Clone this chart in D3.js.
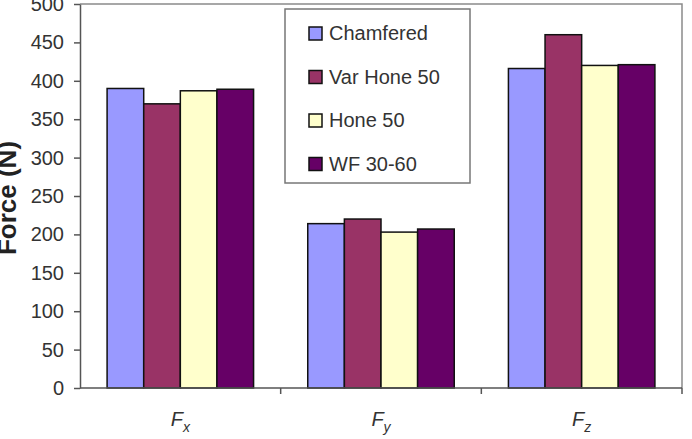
<!DOCTYPE html>
<html>
<head>
<meta charset="utf-8">
<script src="https://cdn.jsdelivr.net/npm/d3@7"></script>
<style>
body { margin: 0; background: #fff; }
text { font-family: "Liberation Sans", Arial, sans-serif; }
</style>
</head>
<body>
<div id="chart"></div>
<script>
// data
var categories = ["x", "y", "z"];
var seriesNames = ["Chamfered", "Var Hone 50", "Hone 50", "WF 30-60"];
var chamfered = [390, 214, 416];
var varHone50 = [370, 220, 460];
var hone50 = [387, 203, 420];
var wf3060 = [389, 207, 421];
var yTicks = [0, 50, 100, 150, 200, 250, 300, 350, 400, 450, 500];

var colors = ["#9999ff", "#993366", "#ffffcc", "#660066"];
var allSeries = [chamfered, varHone50, hone50, wf3060];

// set the dimensions and margins of the graph
var margin = {top: 4, right: 10, bottom: 51, left: 80},
    width = 692 - margin.left - margin.right,
    height = 439 - margin.top - margin.bottom;

var x0 = d3.scaleBand()
    .domain(categories)
    .range([0, width])
    .paddingInner(0)
    .paddingOuter(0);

var x1 = d3.scaleBand()
    .domain(d3.range(seriesNames.length))
    .range([x0.bandwidth() * 0.135, x0.bandwidth() * 0.865]);

var y = d3.scaleLinear()
    .domain([0, 500])
    .range([height, 0]);

var svg = d3.select("#chart").append("svg")
    .attr("width", 692)
    .attr("height", 439)
  .append("g")
    .attr("transform", "translate(" + margin.left + "," + margin.top + ")");

// plot area border (top and right)
svg.append("path")
    .attr("d", "M0,0H" + width + "V" + height)
    .attr("fill", "none")
    .attr("stroke", "#8a8a8a")
    .attr("stroke-width", 1.5);

// bars
var groups = svg.selectAll(".grp")
    .data(categories)
  .enter().append("g")
    .attr("class", "grp")
    .attr("transform", function(d) { return "translate(" + x0(d) + ",0)"; });

groups.selectAll("rect")
    .data(function(d, i) { return allSeries.map(function(s, j) { return {v: s[i], j: j}; }); })
  .enter().append("rect")
    .attr("x", function(d) { return x1(d.j); })
    .attr("width", x1.bandwidth())
    .attr("y", function(d) { return y(d.v); })
    .attr("height", function(d) { return height - y(d.v); })
    .attr("fill", function(d) { return colors[d.j]; })
    .attr("stroke", "#111")
    .attr("stroke-width", 1.5);

// y axis
var yAxis = svg.append("g")
    .call(d3.axisLeft(y).tickValues(yTicks).tickSize(6).tickSizeOuter(0).tickPadding(10));
yAxis.selectAll("text")
    .style("font-size", "20px")
    .attr("fill", "#333");
yAxis.selectAll("line, path").attr("stroke", "#555").attr("stroke-width", 1.5);

// x axis with ticks at category boundaries
var xAxis = svg.append("g")
    .attr("transform", "translate(0," + height + ")");
xAxis.append("line")
    .attr("x1", 0).attr("x2", width)
    .attr("stroke", "#555").attr("stroke-width", 1.5);
xAxis.selectAll(".tk")
    .data(categories)
  .enter().append("line")
    .attr("x1", function(d) { return x0(d) + x0.bandwidth(); })
    .attr("x2", function(d) { return x0(d) + x0.bandwidth(); })
    .attr("y1", 0).attr("y2", 6)
    .attr("stroke", "#555").attr("stroke-width", 1.5);

var lab = xAxis.selectAll(".lab")
    .data(categories)
  .enter().append("text")
    .attr("x", function(d) { return x0(d) + x0.bandwidth() / 2; })
    .attr("y", 38)
    .attr("text-anchor", "middle")
    .style("font-size", "20px")
    .style("font-style", "italic")
    .attr("fill", "#333");
lab.append("tspan").text("F");
lab.append("tspan")
    .attr("dy", 6)
    .style("font-size", "14px")
    .text(function(d) { return d; });

// y axis title
svg.append("text")
    .attr("transform", "translate(" + (16 - margin.left) + "," + (198 - margin.top) + ") rotate(-90)")
    .attr("text-anchor", "middle")
    .style("font-size", "26px")
    .style("font-weight", "bold")
    .attr("fill", "#222")
    .text("Force (N)");

// legend
var legend = svg.append("g")
    .attr("transform", "translate(" + (285 - margin.left) + "," + (9 - margin.top) + ")");
legend.append("rect")
    .attr("width", 185).attr("height", 174)
    .attr("fill", "#fff")
    .attr("stroke", "#777")
    .attr("stroke-width", 1.5);
var items = legend.selectAll(".item")
    .data(seriesNames)
  .enter().append("g")
    .attr("transform", function(d, i) { return "translate(24," + (24 + i * 43.5) + ")"; });
items.append("rect")
    .attr("x", 0).attr("y", -6)
    .attr("width", 13).attr("height", 13)
    .attr("fill", function(d, i) { return colors[i]; })
    .attr("stroke", "#111")
    .attr("stroke-width", 1.5);
items.append("text")
    .attr("x", 20)
    .attr("y", 7)
    .style("font-size", "20px")
    .attr("fill", "#333")
    .text(function(d) { return d; });
</script>
</body>
</html>
